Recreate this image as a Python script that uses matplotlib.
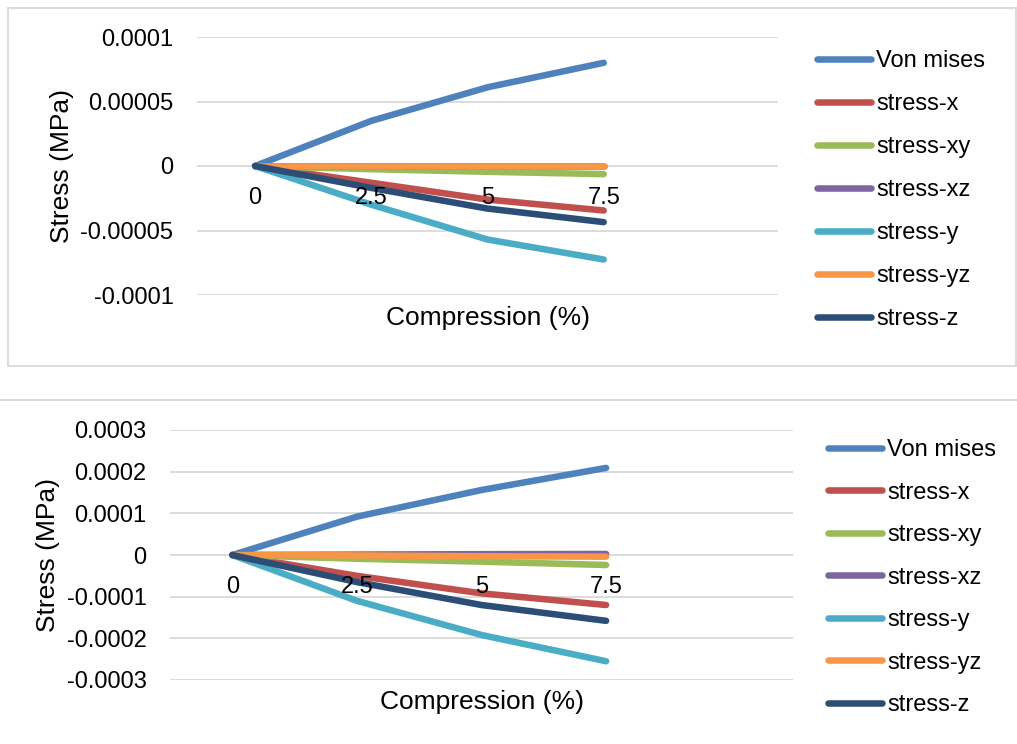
import matplotlib
matplotlib.use("Agg")
import matplotlib.pyplot as plt
from matplotlib.lines import Line2D
from matplotlib.patches import Rectangle

plt.rcParams['font.family'] = ['Liberation Sans', 'DejaVu Sans']

# Compression steps (%)
compression = ["0", "2.5", "5", "7.5"]
series_names = ["Von mises", "stress-x", "stress-xy", "stress-xz",
                "stress-y", "stress-yz", "stress-z"]
colors = ["#4F81BD", "#C0504D", "#9BBB59", "#8064A2",
          "#4BACC6", "#F79646", "#2C4D75"]

# Upper model: stress components (MPa)
top_von_mises = [0, 3.5e-5, 6.1e-5, 8.0e-5]
top_stress_x = [0, -1.3e-5, -2.6e-5, -3.45e-5]
top_stress_xy = [0, -2.5e-6, -4.5e-6, -6.3e-6]
top_stress_xz = [0, 0, 0, 0]
top_stress_y = [0, -3.0e-5, -5.7e-5, -7.25e-5]
top_stress_yz = [0, 0, 0, 0]
top_stress_z = [0, -1.7e-5, -3.3e-5, -4.35e-5]

# Lower model: stress components (MPa)
bot_von_mises = [0, 0.92e-4, 1.56e-4, 2.09e-4]
bot_stress_x = [0, -0.5e-4, -0.92e-4, -1.2e-4]
bot_stress_xy = [0, -0.09e-4, -0.16e-4, -0.24e-4]
bot_stress_xz = [0, 0.01e-4, 0.02e-4, 0.025e-4]
bot_stress_y = [0, -1.1e-4, -1.92e-4, -2.55e-4]
bot_stress_yz = [0, -0.01e-4, -0.03e-4, -0.04e-4]
bot_stress_z = [0, -0.65e-4, -1.2e-4, -1.58e-4]

top_ticks = [1e-4, 5e-5, 0, -5e-5, -1e-4]
top_tick_labels = ["0.0001", "0.00005", "0", "-0.00005", "-0.0001"]
bot_ticks = [3e-4, 2e-4, 1e-4, 0, -1e-4, -2e-4, -3e-4]
bot_tick_labels = ["0.0003", "0.0002", "0.0001", "0", "-0.0001", "-0.0002", "-0.0003"]

W, H = 1017, 744
fig = plt.figure(figsize=(W / 100, H / 100), dpi=100)


def fx(px):
    return px / W


def fy(py):
    return 1 - py / H


# chart frames
fig.patches.append(Rectangle((fx(8), fy(366)), fx(1008), 358 / H,
                             transform=fig.transFigure, fill=False,
                             edgecolor="#d9d9d9", linewidth=1.3))
fig.add_artist(Line2D([0, 1], [fy(400), fy(400)], transform=fig.transFigure,
                      color="#d9d9d9", linewidth=1.3))

TICK_FS = 17
TITLE_FS = 19
LW = 4.7


def draw_chart(rect, data, ticks, tick_labels, ylim, ylabel_pos, legend_pos,
               xtitle_y, spacing):
    ax = fig.add_axes(rect)
    x = list(range(len(compression)))
    handles = []
    for name, vals, c in zip(series_names, data, colors):
        ln, = ax.plot(x, vals, color=c, linewidth=LW,
                      solid_capstyle="round", solid_joinstyle="round",
                      label=name)
        handles.append(ln)
    ax.set_xlim(-0.5, 4.5)
    ax.set_ylim(*ylim)
    ax.set_yticks(ticks, tick_labels)
    ax.set_xticks(x, compression)
    ax.grid(axis="y", color="#d9d9d9", linewidth=1.3)
    ax.set_axisbelow(True)
    ax.xaxis.set_zorder(5)
    for s in ["top", "right", "left"]:
        ax.spines[s].set_visible(False)
    ax.spines["bottom"].set_position(("data", 0))
    ax.spines["bottom"].set_visible(False)
    ax.tick_params(axis="y", length=0, pad=17, labelsize=TICK_FS)
    ax.tick_params(axis="x", length=0, pad=15, labelsize=TICK_FS)
    ax.text(0.5, xtitle_y, "Compression (%)", transform=ax.transAxes,
            ha="center", va="center", fontsize=TITLE_FS)
    fig.text(fx(ylabel_pos[0]), fy(ylabel_pos[1]), "Stress (MPa)",
             rotation=90, ha="center", va="center", fontsize=TITLE_FS)
    leg = ax.legend(handles=handles, loc="upper left",
                    bbox_to_anchor=(fx(legend_pos[0]), fy(legend_pos[1])),
                    bbox_transform=fig.transFigure, frameon=False,
                    fontsize=TICK_FS, handlelength=2.3, handletextpad=0.2,
                    labelspacing=spacing, borderpad=0, borderaxespad=0)
    for h in leg.legend_handles:
        h.set_linewidth(LW)
    return ax


draw_chart([fx(197), fy(295), fx(778) - fx(197), (295 - 37) / H],
           [top_von_mises, top_stress_x, top_stress_xy, top_stress_xz,
            top_stress_y, top_stress_yz, top_stress_z],
           top_ticks, top_tick_labels, (-1e-4, 1e-4),
           (62, 166), (817, 50), -0.089, 0.89)

draw_chart([fx(170), fy(680), fx(793) - fx(170), (680 - 430) / H],
           [bot_von_mises, bot_stress_x, bot_stress_xy, bot_stress_xz,
            bot_stress_y, bot_stress_yz, bot_stress_z],
           bot_ticks, bot_tick_labels, (-3e-4, 3e-4),
           (48, 555), (828, 439), -0.088, 0.87)

fig.savefig("out.png", dpi=100)
